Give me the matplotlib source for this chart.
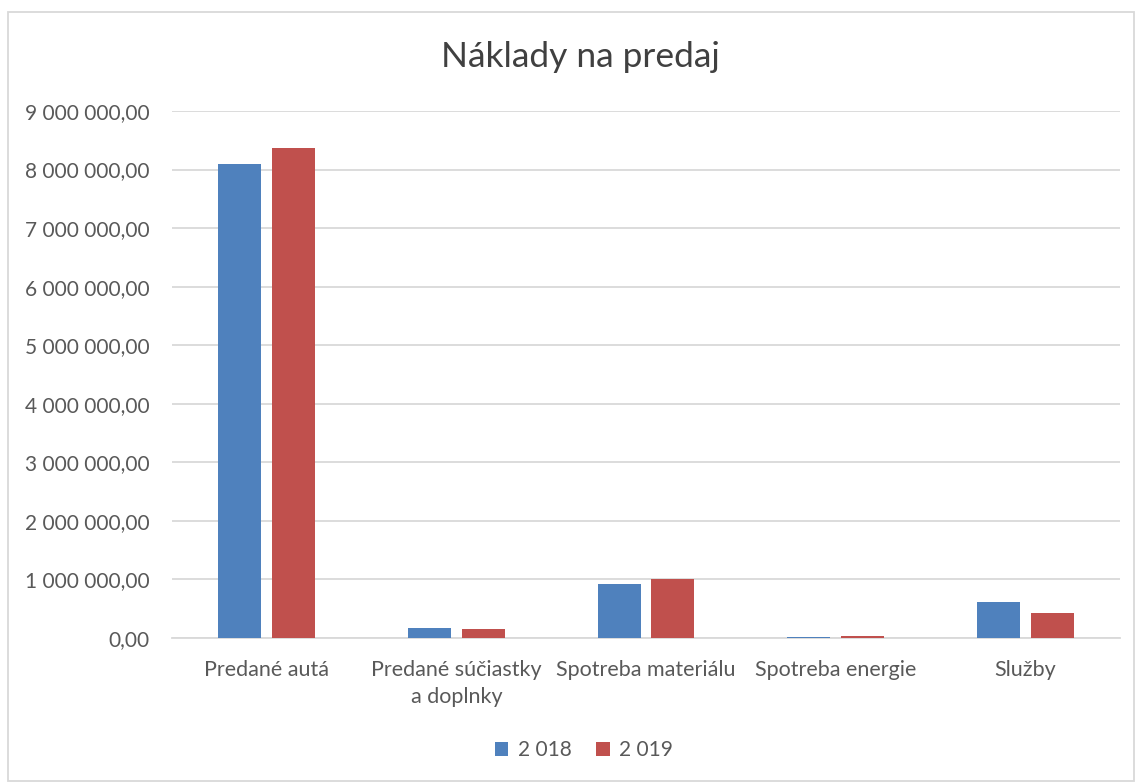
# %%
# Náklady na predaj - stĺpcový graf
import numpy as np
import matplotlib.pyplot as plt
from matplotlib.patches import Rectangle
from matplotlib.ticker import FuncFormatter

# %%
# Data
kategorie = ['Predané autá', 'Predané súčiastky\na doplnky', 'Spotreba materiálu',
             'Spotreba energie', 'Služby']
rok_2018 = [8097000, 168000, 925000, 12000, 620000]
rok_2019 = [8370000, 151000, 1005000, 30000, 420000]
legenda = ['2 018', '2 019']

# %%
def sk_format(v, pos):
    s = f'{v:,.2f}'
    return s.replace(',', ' ').replace('.', ',')

plt.rcParams['font.family'] = ['Lato', 'DejaVu Sans']

fig = plt.figure(figsize=(11.36, 7.83), dpi=100)
ax = fig.add_axes([172 / 1136, 1 - 638 / 783, 948 / 1136, 527 / 783])

x = np.arange(len(kategorie))
w = 0.227
ax.bar(x - 0.142, rok_2018, w, color='#4f81bd', label=legenda[0], zorder=3)
ax.bar(x + 0.142, rok_2019, w, color='#c0504d', label=legenda[1], zorder=3)

ax.set_xlim(-0.5, len(kategorie) - 0.5)
ax.set_ylim(0, 9000000)
ax.set_yticks(np.arange(0, 9000001, 1000000))
ax.yaxis.set_major_formatter(FuncFormatter(sk_format))
ax.grid(axis='y', color='#d9d9d9', linewidth=1.3, zorder=0)
ax.set_xticks(x)
ax.set_xticklabels(kategorie, fontsize=15.5, color='#595959', linespacing=1.45)
ax.tick_params(axis='y', labelsize=15, labelcolor='#595959', length=0, pad=16)
ax.tick_params(axis='x', length=0, pad=16)
for s in ['top', 'right', 'left']:
    ax.spines[s].set_visible(False)
ax.spines['bottom'].set_color('#d9d9d9')
ax.spines['bottom'].set_linewidth(1.3)

fig.text(580 / 1136, 1 - 57 / 783, 'Náklady na predaj', ha='center', va='center',
         fontsize=25.5, color='#404040')

fig.legend(loc='center', bbox_to_anchor=(584 / 1136, 1 - 750 / 783), ncol=2,
           frameon=False, fontsize=15, labelcolor='#595959', handlelength=0.65,
           handleheight=0.65, columnspacing=1.2, handletextpad=0.45)

# chart border
fig.patches.append(Rectangle((8 / 1136, 0.002), 1126 / 1136, 1 - 12 / 783 - 0.002,
                             transform=fig.transFigure, fill=False,
                             edgecolor='#d9d9d9', linewidth=1.3))

plt.savefig('out.png', dpi=100)
